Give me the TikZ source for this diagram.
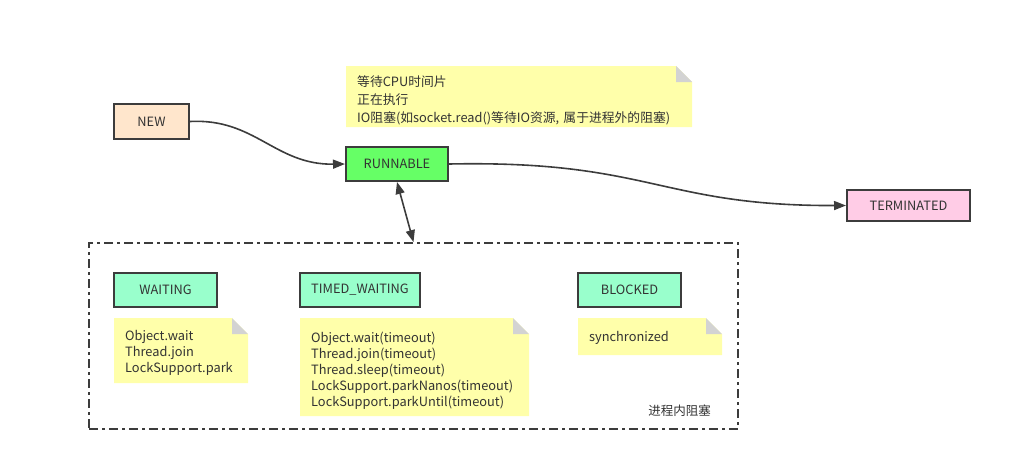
\documentclass[tikz,border=0pt]{standalone}
\usepackage{fontspec}
\setmainfont{Noto Sans CJK SC}
\usetikzlibrary{arrows.meta}
\definecolor{txt}{HTML}{333333}
\definecolor{bd}{HTML}{3C3C3C}
\definecolor{newc}{HTML}{FFE6CC}
\definecolor{runc}{HTML}{66FF66}
\definecolor{termc}{HTML}{FFCCE6}
\definecolor{statec}{HTML}{99FFCC}
\definecolor{notec}{HTML}{FFFFAA}
\definecolor{foldc}{HTML}{D3D3D3}
\newcommand\notelines[2]{\raisebox{-#1}[\height][\depth]{\begin{tabular}{@{}l@{}}#2\end{tabular}}}
\tikzset{
  statebox/.style={draw=bd, line width=2pt, text=txt, inner sep=0pt, font=\fontsize{12.8}{15}\selectfont},
  notebox/.style={inner xsep=11pt, inner ysep=0pt, align=left, text=txt, anchor=north west,
    font=\fontsize{12.8}{16}\selectfont,
    path picture={
      \fill[notec] (path picture bounding box.north west) -- ([xshift=-16pt]path picture bounding box.north east)
        -- ([yshift=-16pt]path picture bounding box.north east) -- (path picture bounding box.south east)
        -- (path picture bounding box.south west) -- cycle;
      \fill[foldc] ([xshift=-16pt]path picture bounding box.north east) -- ([yshift=-16pt]path picture bounding box.north east)
        -- ([xshift=-16pt,yshift=-16pt]path picture bounding box.north east) -- cycle;
    }},
  arr/.style={draw=bd, line width=1.6pt, -{Triangle[length=12pt,width=9pt]}},
  frame/.style={draw=bd, line width=1.8pt, dash pattern=on 9pt off 4pt on 3pt off 4pt}
}
\begin{document}
\begin{tikzpicture}[x=1pt,y=-1pt]
\useasboundingbox (0,0) rectangle (1010,475);

% note top
\node[notebox, font=\fontsize{12.8}{18}\selectfont, minimum width=346pt, minimum height=61pt, text width=324pt] (ntop) at (346,66)
  {\notelines{4.5pt}{等待CPU时间片\\正在执行\\IO阻塞(如socket.read()等待IO资源, 属于进程外的阻塞)}};

% main states
\node[statebox, fill=newc, minimum width=75pt, minimum height=35pt] (new) at (151.5,121.5) {NEW};
\node[statebox, fill=runc, minimum width=102pt, minimum height=34pt] (run) at (397,164) {RUNNABLE};
\node[statebox, fill=termc, minimum width=123pt, minimum height=31pt] (term) at (908.5,205.5) {TERMINATED};

% frame
\node[frame, minimum width=649pt, minimum height=186pt, inner sep=0pt] (inner) at (413.5,336) {};
\node[text=txt, font=\fontsize{12.5}{15}\selectfont, anchor=east, inner sep=0pt] (lbl) at (711,411) {进程内阻塞};

% inner states
\node[statebox, fill=statec, minimum width=103pt, minimum height=34pt] (wait) at (165.5,290) {WAITING};
\node[statebox, fill=statec, minimum width=120pt, minimum height=34pt] (timed) at (360,290) {TIMED\_WAITING};
\node[statebox, fill=statec, minimum width=103pt, minimum height=34pt] (blocked) at (629.5,290) {BLOCKED};

% notes
\node[notebox, minimum width=134pt, minimum height=65pt, text width=112pt] (nwait) at (114,318)
  {\notelines{3pt}{Object.wait\\Thread.join\\LockSupport.park}};
\node[notebox, minimum width=229pt, minimum height=98pt, text width=207pt] (ntimed) at (300,318)
  {\notelines{4pt}{Object.wait(timeout)\\Thread.join(timeout)\\Thread.sleep(timeout)\\LockSupport.parkNanos(timeout)\\LockSupport.parkUntil(timeout)}};
\node[notebox, minimum width=144pt, minimum height=37pt, text width=122pt] (nblk) at (578,318)
  {\notelines{2pt}{synchronized}};

% connectors
\draw[arr] (new.east) .. controls (255,118) and (275,165) .. (run.west);
\draw[arr] (run.east) .. controls (650,160) and (660,206) .. (term.west);
\draw[arr, {Triangle[length=12pt,width=9pt]}-{Triangle[length=12pt,width=9pt]}] (run.south) -- (inner.north);
\end{tikzpicture}
\end{document}
